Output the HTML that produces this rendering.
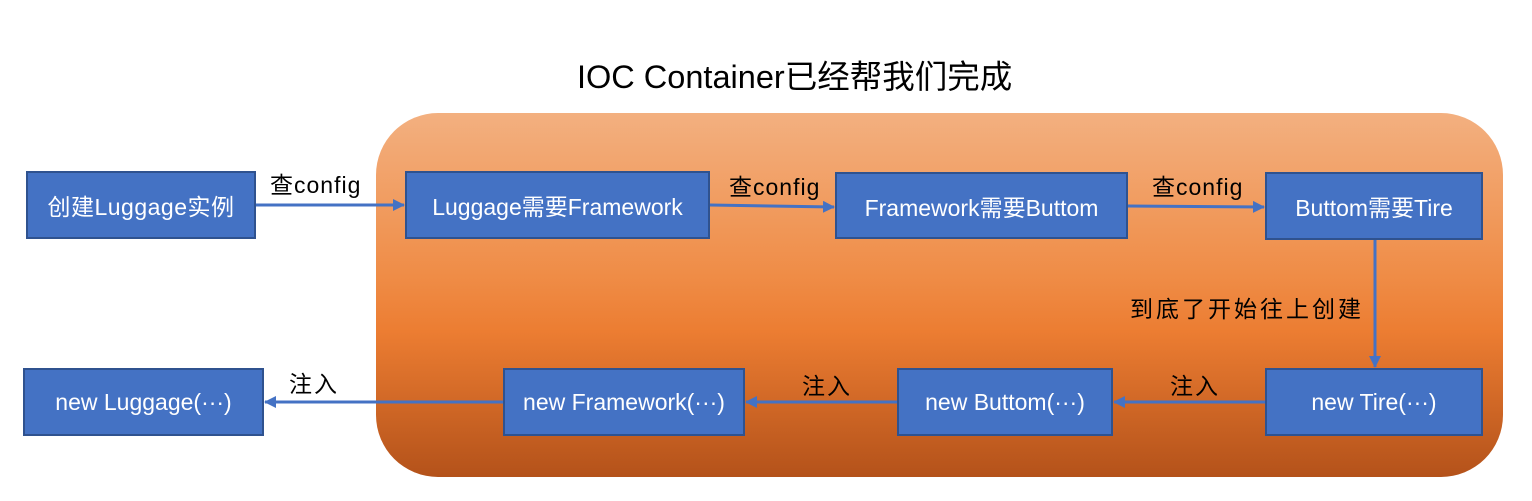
<!DOCTYPE html>
<html><head><meta charset="utf-8"><style>
body{margin:0;width:1532px;height:501px;background:#fff;position:relative;overflow:hidden;font-family:"Liberation Sans","Noto Sans CJK SC",sans-serif;}
.c{position:absolute;left:376px;top:113px;width:1127px;height:364px;border-radius:62px;background:linear-gradient(#f3b080 0%,#ef8c46 45%,#ec7d32 60%,#b4521a 100%);}
.b{position:absolute;background:#4472c4;border:2px solid #2f528f;box-sizing:border-box;color:#fff;font-size:23px;display:flex;align-items:center;justify-content:center;white-space:nowrap;}
.t{position:absolute;font-size:23px;color:#000;white-space:nowrap;}
svg{position:absolute;left:0;top:0;}
</style></head><body>
<div class="t" style="left:577px;top:51px;font-size:32.5px;">IOC Container已经帮我们完成</div>
<div class="c"></div>
<svg width="1532" height="501">
<defs><marker id="a" markerWidth="12" markerHeight="12" refX="11" refY="6" orient="auto" markerUnits="userSpaceOnUse"><path d="M0,0 L12,6 L0,12z" fill="#4472c4"/></marker></defs>
<g stroke="#4472c4" stroke-width="3" fill="none" marker-end="url(#a)">
<line x1="256" y1="205" x2="404" y2="205"/>
<line x1="710" y1="205" x2="834" y2="207"/>
<line x1="1128" y1="206" x2="1264" y2="207"/>
<line x1="1375" y1="240" x2="1375" y2="367"/>
<line x1="1265" y1="402" x2="1114" y2="402"/>
<line x1="897" y1="402" x2="746" y2="402"/>
<line x1="503" y1="402" x2="265" y2="402"/>
</g></svg>
<div class="b" style="left:26px;top:171px;width:230px;height:68px;letter-spacing:0.5px;">创建Luggage实例</div>
<div class="b" style="left:405px;top:171px;width:305px;height:68px;">Luggage需要Framework</div>
<div class="b" style="left:835px;top:172px;width:293px;height:67px;">Framework需要Buttom</div>
<div class="b" style="left:1265px;top:172px;width:218px;height:68px;">Buttom需要Tire</div>
<div class="b" style="left:1265px;top:368px;width:218px;height:68px;">new Tire(···)</div>
<div class="b" style="left:897px;top:368px;width:216px;height:68px;">new Buttom(···)</div>
<div class="b" style="left:503px;top:368px;width:242px;height:68px;">new Framework(···)</div>
<div class="b" style="left:23px;top:368px;width:241px;height:68px;">new Luggage(···)</div>
<div class="t" style="left:270px;top:166px;letter-spacing:1px;">查config</div>
<div class="t" style="left:729px;top:168px;letter-spacing:1px;">查config</div>
<div class="t" style="left:1152px;top:168px;letter-spacing:1px;">查config</div>
<div class="t" style="left:1130px;top:290px;letter-spacing:3px;">到底了开始往上创建</div>
<div class="t" style="left:289px;top:365px;letter-spacing:2px;">注入</div>
<div class="t" style="left:802px;top:367px;letter-spacing:2px;">注入</div>
<div class="t" style="left:1170px;top:367px;letter-spacing:2px;">注入</div>
</body></html>
